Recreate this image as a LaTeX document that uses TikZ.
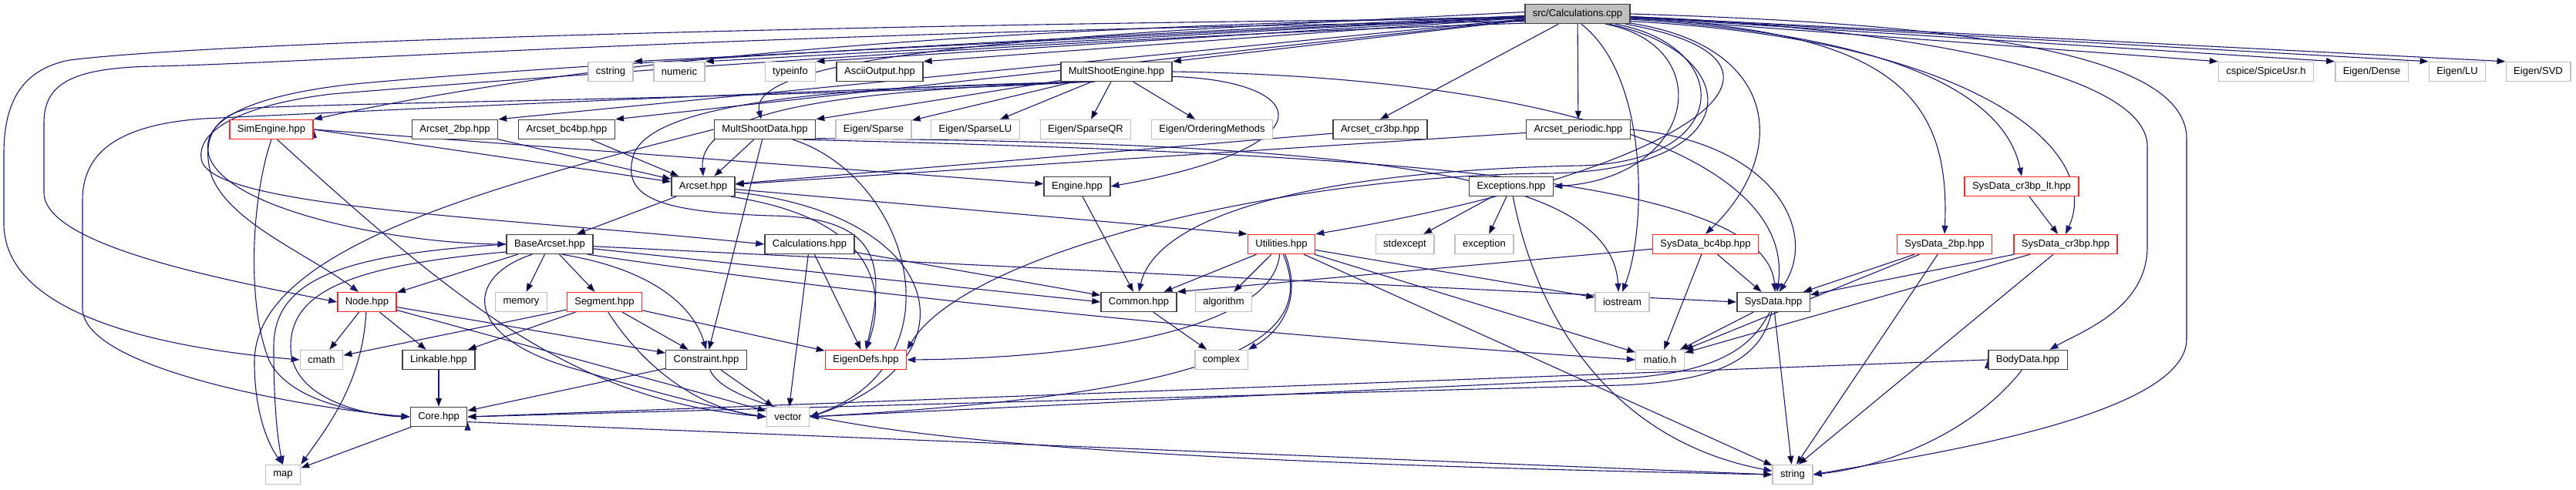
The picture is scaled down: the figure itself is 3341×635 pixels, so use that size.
\documentclass[tikz,border=0pt]{standalone}
\usepackage{fontspec}
\setmainfont{Liberation Sans}
\usetikzlibrary{arrows.meta, backgrounds}
\definecolor{linkblue}{HTML}{191970}
\definecolor{boxgray}{HTML}{BFBFBF}
\tikzset{
	filenode/.style={
			draw=black!75,
			fill=white,
			line width=1.4pt,
			minimum height=25pt,
			inner xsep=10pt,
			inner ysep=0pt,
			font=\fontsize{13}{15}\selectfont
		},
	rootnode/.style={
			filenode,
			fill=boxgray
		},
	rednode/.style={
			filenode,
			draw=red!85
		},
	sysnode/.style={
			filenode,
			draw=boxgray
		},
	link/.style={
			draw=linkblue,
			line width=1.1pt,
			-{Triangle[length=11pt,width=8pt]}
		}
}

\begin{document}
\begin{tikzpicture}[x=1pt, y=-1pt]
\useasboundingbox (0,0) rectangle (3341,635);

\node[rootnode] (calccpp) at (2046,18) {src/Calculations.cpp};

\node[sysnode] (cstring) at (792,93) {cstring};
\node[sysnode] (numeric) at (881,93) {numeric};
\node[sysnode] (typeinfo) at (1025,93) {typeinfo};
\node[filenode] (ascii) at (1141,93) {AsciiOutput.hpp};
\node[filenode] (mse) at (1448,93) {MultShootEngine.hpp};
\node[sysnode] (spice) at (2939,93) {cspice/SpiceUsr.h};
\node[sysnode] (dense) at (3076,93) {Eigen/Dense};
\node[sysnode] (eigenlu) at (3187,93) {Eigen/LU};
\node[sysnode] (svd) at (3292,93) {Eigen/SVD};

\node[rednode] (sim) at (352,168) {SimEngine.hpp};
\node[filenode] (a2bp) at (590,168) {Arcset\_2bp.hpp};
\node[filenode] (abc4bp) at (735,168) {Arcset\_bc4bp.hpp};
\node[filenode] (msd) at (992,168) {MultShootData.hpp};
\node[sysnode] (sparse) at (1133,168) {Eigen/Sparse};
\node[sysnode] (sparselu) at (1265,168) {Eigen/SparseLU};
\node[sysnode] (sparseqr) at (1408,168) {Eigen/SparseQR};
\node[sysnode] (ordering) at (1572,168) {Eigen/OrderingMethods};
\node[filenode] (acr3bp) at (1790,168) {Arcset\_cr3bp.hpp};
\node[filenode] (aper) at (2047,168) {Arcset\_periodic.hpp};

\node[filenode] (arcset) at (912,242) {Arcset.hpp};
\node[filenode] (engine) at (1397,242) {Engine.hpp};
\node[filenode] (exc) at (1960,242) {Exceptions.hpp};
\node[rednode] (sdlt) at (2622,242) {SysData\_cr3bp\_lt.hpp};

\node[filenode] (bas) at (713,317) {BaseArcset.hpp};
\node[filenode] (calchpp) at (1050,317) {Calculations.hpp};
\node[rednode] (util) at (1662,317) {Utilities.hpp};
\node[sysnode] (stdexcept) at (1822,317) {stdexcept};
\node[sysnode] (exception) at (1925,317) {exception};
\node[rednode] (sdbc4bp) at (2212,317) {SysData\_bc4bp.hpp};
\node[rednode] (sd2bp) at (2522,317) {SysData\_2bp.hpp};
\node[rednode] (sdcr3bp) at (2679,317) {SysData\_cr3bp.hpp};

\node[rednode] (nodehpp) at (476,392) {Node.hpp};
\node[sysnode] (memory) at (676,392) {memory};
\node[rednode] (segment) at (784,392) {Segment.hpp};
\node[filenode] (common) at (1477,392) {Common.hpp};
\node[sysnode] (algorithm) at (1587,392) {algorithm};
\node[sysnode] (iostream) at (2104,392) {iostream};
\node[filenode] (sysdata) at (2300,392) {SysData.hpp};

\node[sysnode] (cmath) at (417,467) {cmath};
\node[filenode] (linkable) at (569,467) {Linkable.hpp};
\node[filenode] (constraint) at (916,467) {Constraint.hpp};
\node[rednode] (eigendefs) at (1123,467) {EigenDefs.hpp};
\node[sysnode] (complex) at (1584,467) {complex};
\node[sysnode] (matio) at (2153,467) {matio.h};
\node[filenode] (bodydata) at (2630,467) {BodyData.hpp};

\node[filenode] (core) at (569,541) {Core.hpp};
\node[sysnode] (vector) at (1022,541) {vector};

\node[sysnode] (map) at (367,616) {map};
\node[sysnode] (string) at (2325,616) {string};

\begin{scope}[on background layer]
% src/Calculations.cpp
\draw[link] (calccpp) edge (cstring.north east) edge (numeric.north east)
  edge (typeinfo.north east) edge (ascii.north east) edge (mse.north east)
  edge (spice.north west) edge (dense.north west) edge (eigenlu.north west)
  edge (svd.north west);
\draw[link] (calccpp) edge (a2bp.north east) edge (abc4bp.north east)
  edge (acr3bp.north) edge (aper);
\draw[link] (calccpp.183) .. controls (1300,35) and (800,70) .. (sim.north east);
\draw[link] (calccpp.178) .. controls (1500,40) and (965,60) .. (msd.110);
\draw[link] (calccpp.185) .. controls (1200,30) and (300,52) .. (90,78)
  .. controls (30,90) and (5,130) .. (5,200) -- (5,290)
  .. controls (5,420) and (250,455) .. (cmath.west);
\draw[link] (calccpp.188) .. controls (1000,40) and (400,82) .. (200,86)
  .. controls (90,88) and (57,110) .. (57,160) -- (57,250)
  .. controls (57,320) and (300,365) .. (nodehpp.west);
\draw[link] (calccpp.182) .. controls (1500,42) and (700,85) .. (450,110)
  .. controls (300,128) and (258,165) .. (272,205)
  .. controls (300,275) and (520,316) .. (bas.west);
\draw[link] (calccpp.190) .. controls (1400,48) and (700,100) .. (430,122)
  .. controls (300,138) and (252,175) .. (262,210)
  .. controls (285,270) and (650,282) .. (calchpp.west);
\draw[link] (calccpp.east) .. controls (2500,30) and (2836,60) .. (2836,180) -- (2836,440)
  .. controls (2836,540) and (2500,590) .. (string.east);
\draw[link] (calccpp.-3) .. controls (2450,35) and (2785,90) .. (2785,190) -- (2785,320)
  .. controls (2785,400) and (2700,430) .. (bodydata.25);
\draw[link] (calccpp.-8) .. controls (2550,50) and (2730,190) .. (sdcr3bp.north);
\draw[link] (calccpp.-6) .. controls (2450,45) and (2600,120) .. (sdlt.north);
\draw[link] (calccpp.-5) .. controls (2450,40) and (2530,120) .. (sd2bp.north);
\draw[link] (calccpp.-10) .. controls (2310,60) and (2320,200) .. (sdbc4bp.north);
\draw[link] (calccpp.-12) .. controls (2380,80) and (2200,220) .. (util.north east);
\draw[link] (calccpp.-20) .. controls (2230,60) and (2200,230) .. (exc.east);
\draw[link] (calccpp.-70) .. controls (2140,100) and (2135,300) .. (iostream.north);
\draw[link] (calccpp.-15) .. controls (2250,60) and (2250,210) .. (2050,215)
  .. controls (1700,222) and (1500,280) .. (common.north);
\draw[link] (calccpp.-18) .. controls (2270,70) and (2270,225) .. (2000,225)
  .. controls (1650,230) and (1250,330) .. (eigendefs.north east);

% MultShootEngine.hpp
\draw[link] (mse) edge (sparse) edge (sparselu) edge (sparseqr) edge (ordering)
  edge (msd.north east);
\draw[link] (mse.198) .. controls (1100,118) and (905,140) .. (arcset.north);
\draw[link] (mse.195) .. controls (1000,120) and (600,138) .. (264,154)
  .. controls (150,162) and (107,200) .. (107,260) -- (107,400)
  .. controls (107,480) and (400,530) .. (core.west);
\draw[link] (mse.200) .. controls (1000,128) and (500,132) .. (330,140)
  .. controls (270,148) and (262,190) .. (275,230)
  .. controls (300,290) and (400,330) .. (nodehpp.130);
\draw[link] (mse.205) .. controls (1100,112) and (850,130) .. (822,200)
  .. controls (805,255) and (850,275) .. (1000,280)
  .. controls (1140,282) and (1150,340) .. (eigendefs.north);
\draw[link] (mse.-5) .. controls (1700,105) and (1730,190) .. (engine.east);
\draw[link] (mse.east) .. controls (2000,100) and (2330,200) .. (sysdata.70);

% row two
\draw[link] (sim.east) edge (arcset) edge (engine);
\draw[link] (sim.south) .. controls (325,260) and (320,400) .. (350,470)
  .. controls (380,525) and (480,538) .. (core.west);
\draw[link] (sim.-60) .. controls (600,400) and (750,520) .. (vector.west);
\draw[link] (a2bp) edge (arcset);
\draw[link] (abc4bp) edge (arcset);
\draw[link] (acr3bp) edge (arcset);
\draw[link] (aper) edge (arcset);
\draw[link] (aper.east) .. controls (2300,185) and (2360,300) .. (sysdata.60);
\draw[link] (msd) edge (arcset) edge (constraint);
\draw[link] (msd.west) .. controls (600,250) and (330,330) .. (330,470)
  .. controls (330,540) and (350,580) .. (map.north);
\draw[link] (msd.-20) .. controls (1180,230) and (1250,470) .. (vector.east);
\draw[link] (msd.-10) .. controls (1800,185) and (2090,230) .. (iostream.110);
\draw[link] (msd.-15) .. controls (1800,200) and (2290,230) .. (sysdata.80);

% row three
\draw[link] (arcset) edge (bas) edge (util.north west);
\draw[link] (arcset.-10) .. controls (1230,280) and (1270,470) .. (vector.east);
\draw[link] (arcset.-20) .. controls (1140,285) and (1150,380) .. (eigendefs.north);
\draw[link] (engine) edge (common);
\draw[link] (exc) edge (stdexcept) edge (exception);
\draw[link] (exc.-80) .. controls (1990,400) and (2080,570) .. (string.170);
\draw[link] (sdlt) edge (sdcr3bp);

% row four
\draw[link] (bas) edge (nodehpp) edge (memory) edge (segment) edge (common.west)
  edge (sysdata.west);
\draw[link] (bas.-40) .. controls (850,350) and (900,400) .. (constraint.north);
\draw[link] (bas.-150) .. controls (600,360) and (600,440) .. (750,480)
  .. controls (850,510) and (950,535) .. (vector.west);
\draw[link] (bas.west) .. controls (450,330) and (355,360) .. (355,450)
  .. controls (355,540) and (362,580) .. (map.north);
\draw[link] (bas.190) .. controls (450,345) and (377,380) .. (377,450)
  .. controls (377,520) and (480,540) .. (core.west);
\draw[link] (bas.-15) .. controls (1200,395) and (1700,440) .. (matio.west);
\draw[link] (calchpp) edge (common) edge (eigendefs) edge (vector);
\draw[link] (util) edge (common) edge (algorithm) edge (iostream) edge (matio)
  edge (string);
\draw[link] (util.-100) .. controls (1650,430) and (1400,465) .. (eigendefs.east);
\draw[link] (util.-80) .. controls (1710,440) and (1600,510) .. (vector.east);
\draw[link] (util.-70) .. controls (1690,390) and (1660,430) .. (complex.north east);
\draw[link] (sdbc4bp) edge (common.north east) edge (sysdata) edge (matio);
\draw[link] (sd2bp) edge (sysdata) edge (matio) edge (string.70);
\draw[link] (sdcr3bp) edge (sysdata) edge (matio) edge (string.60);

% row five
\draw[link] (nodehpp) edge (cmath) edge (linkable) edge (constraint) edge (vector);
\draw[link] (nodehpp.-95) .. controls (470,500) and (420,560) .. (map.north east);
\draw[link] (segment) edge (linkable) edge (cmath) edge (constraint) edge (eigendefs);
\draw[link] (segment.-70) .. controls (830,470) and (900,530) .. (vector.west);
\draw[link] (common) edge (complex);
\draw[link] (sysdata) edge (matio) edge (string);
\draw[link] (sysdata.-100) .. controls (2285,460) and (2240,495) .. (2100,500) -- (core.east);
\draw[link] (sysdata.-110) .. controls (2270,455) and (2220,488) .. (2080,492) -- (vector.east);

% lower rows
\draw[link] (linkable) edge (core);
\draw[link] (constraint) edge (core) edge (vector);
\draw[link] (constraint.-70) .. controls (960,570) and (1500,600) .. (string.west);
\draw[link] (bodydata.west) edge (core.east);
\draw[link] (bodydata.-120) .. controls (2560,560) and (2450,605) .. (string.east);
\draw[link] (core) edge (map);
\draw[link] (core.-10) edge (string.west);
\end{scope}
\end{tikzpicture}
\end{document}
